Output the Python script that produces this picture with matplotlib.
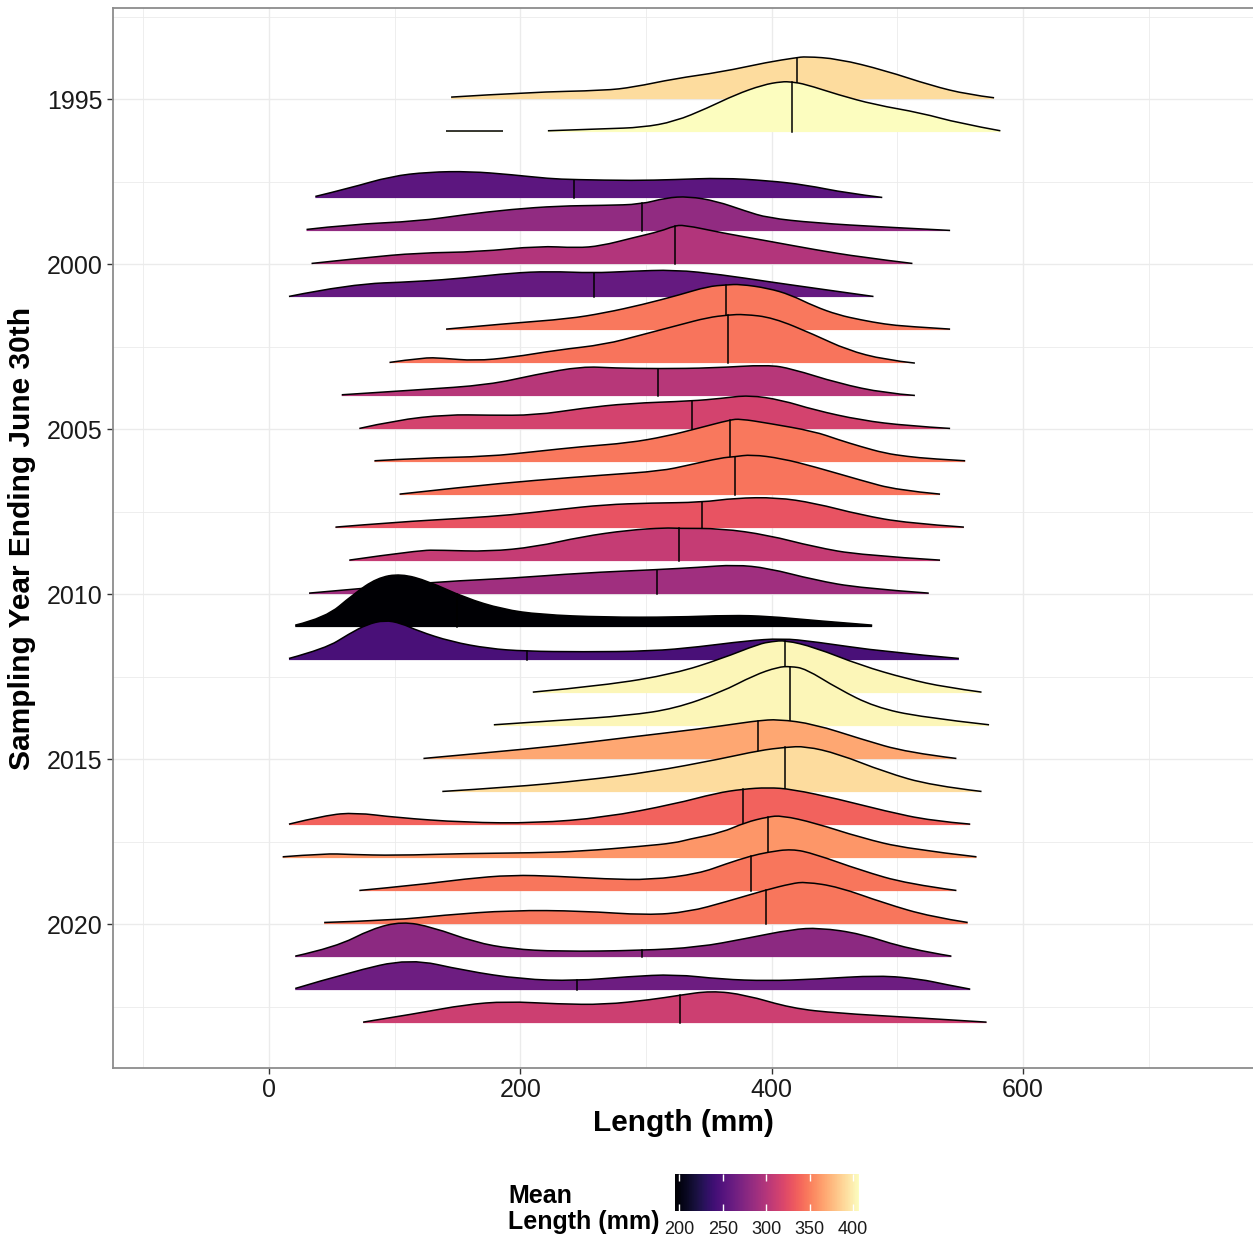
import numpy as np
import matplotlib
matplotlib.use("Agg")
import matplotlib.pyplot as plt
from matplotlib.colors import Normalize
from matplotlib.cm import ScalarMappable
from matplotlib.path import Path
from matplotlib.patches import PathPatch

plt.rcParams['font.family'] = ['Liberation Sans', 'DejaVu Sans']

# ---------------- data ----------------
years = [1995, 1996, 1998, 1999, 2000, 2001, 2002, 2003, 2004, 2005, 2006,
         2007, 2008, 2009, 2010, 2011, 2012, 2013, 2014, 2015, 2016, 2017,
         2018, 2019, 2020, 2021, 2022, 2023]

mean_length = [392, 407, 254, 282, 299, 259, 347, 345, 301, 316, 347,
               345, 329, 309, 290, 195, 244, 403, 403, 368, 392, 337,
               360, 346, 346, 280, 263, 312]

median_length = [420, 416, 243, 297, 323, 258.5, 364, 365.5, 310, 336.5, 367,
                 370.5, 344.5, 326, 308.5, 150, 205, 411, 415, 389, 411, 377.5,
                 397, 383.5, 395.5, 297, 245, 327]

# density profiles: lengths (mm) and relative ridge heights (1 = one year row)
L1995 = [145, 208, 267, 290, 323, 360, 397, 419, 427, 453, 490, 527, 556, 577]
H1995 = [0.06, 0.21, 0.26, 0.36, 0.62, 0.82, 1.12, 1.25, 1.29, 1.22, 0.87, 0.41, 0.14, 0.04]

L1996a = [141, 186]
H1996a = [0.04, 0.04]
L1996b = [222, 267, 297, 323, 349, 371, 393, 408, 416, 427, 453, 482, 519, 549, 582]
H1996b = [0.04, 0.10, 0.14, 0.32, 0.73, 1.13, 1.43, 1.53, 1.52, 1.45, 1.13, 0.83, 0.58, 0.27, 0.04]

L1998 = [37, 64, 97, 127, 160, 193, 223, 243, 290, 323, 360, 397, 427, 460, 488]
H1998 = [0.05, 0.30, 0.66, 0.79, 0.81, 0.71, 0.59, 0.56, 0.53, 0.56, 0.61, 0.53, 0.40, 0.15, 0.02]

L1999 = [30, 64, 119, 156, 193, 230, 267, 296, 316, 334, 356, 379, 397, 434, 490, 542]
H1999 = [0.05, 0.20, 0.30, 0.50, 0.66, 0.76, 0.78, 0.81, 1.01, 1.05, 0.91, 0.61, 0.40, 0.25, 0.12, 0.02]

L2000 = [34, 75, 119, 167, 215, 245, 264, 290, 312, 322, 330, 360, 397, 434, 471, 512]
H2000 = [0.02, 0.19, 0.34, 0.37, 0.55, 0.49, 0.55, 0.80, 1.00, 1.15, 1.19, 0.95, 0.70, 0.44, 0.21, 0.02]

L2001 = [16, 64, 119, 156, 193, 223, 258, 286, 323, 360, 397, 434, 481]
H2001 = [0.02, 0.39, 0.47, 0.58, 0.73, 0.78, 0.73, 0.78, 0.83, 0.68, 0.47, 0.27, 0.02]

L2002 = [141, 193, 238, 267, 297, 327, 349, 364, 375, 397, 415, 434, 453, 471, 490, 508, 542]
H2002 = [0.03, 0.21, 0.34, 0.52, 0.77, 1.07, 1.32, 1.37, 1.39, 1.27, 1.07, 0.72, 0.46, 0.31, 0.18, 0.11, 0.03]

L2003 = [96, 123, 138, 164, 193, 230, 267, 297, 327, 349, 366, 378, 401, 434, 460, 490, 514]
H2003 = [0.02, 0.17, 0.15, 0.07, 0.17, 0.40, 0.56, 0.86, 1.16, 1.38, 1.46, 1.48, 1.38, 0.86, 0.40, 0.10, 0.0]

L2004 = [58, 119, 175, 212, 249, 275, 310, 353, 397, 416, 453, 490, 514]
H2004 = [0.04, 0.19, 0.34, 0.65, 0.90, 0.85, 0.83, 0.85, 0.95, 0.83, 0.39, 0.09, 0.02]

L2005 = [72, 101, 142, 175, 212, 249, 286, 336, 360, 382, 408, 434, 471, 508, 542]
H2005 = [0.02, 0.27, 0.44, 0.42, 0.42, 0.63, 0.78, 0.85, 0.93, 1.03, 0.88, 0.58, 0.27, 0.10, 0.02]

L2006 = [84, 119, 175, 212, 249, 286, 316, 342, 367, 375, 397, 434, 453, 471, 490, 508, 527, 554]
H2006 = [0.04, 0.12, 0.17, 0.32, 0.47, 0.58, 0.78, 1.03, 1.28, 1.31, 1.18, 0.93, 0.68, 0.47, 0.27, 0.17, 0.10, 0.04]

L2007 = [104, 156, 212, 267, 312, 334, 360, 370, 384, 408, 434, 471, 500, 534]
H2007 = [0.03, 0.25, 0.45, 0.61, 0.73, 0.91, 1.13, 1.16, 1.23, 1.11, 0.86, 0.45, 0.15, 0.03]

L2008 = [53, 101, 156, 193, 230, 267, 304, 344, 371, 404, 434, 471, 508, 553]
H2008 = [0.03, 0.18, 0.30, 0.40, 0.56, 0.71, 0.76, 0.78, 0.91, 0.93, 0.76, 0.40, 0.15, 0.03]

L2009 = [64, 119, 138, 175, 212, 249, 286, 316, 325, 360, 397, 434, 471, 534]
H2009 = [0.03, 0.33, 0.33, 0.29, 0.43, 0.74, 0.94, 1.01, 0.99, 0.99, 0.79, 0.43, 0.18, 0.03]

L2010 = [32, 82, 138, 193, 249, 308, 342, 371, 397, 434, 471, 525]
H2010 = [0.03, 0.20, 0.38, 0.48, 0.64, 0.74, 0.81, 0.89, 0.79, 0.43, 0.18, 0.03]

L2011 = [21, 45, 67, 86, 105, 127, 156, 186, 216, 267, 323, 367, 397, 434, 480]
H2011 = [0.06, 0.28, 0.99, 1.49, 1.62, 1.39, 0.89, 0.54, 0.38, 0.30, 0.30, 0.36, 0.33, 0.20, 0.06]

L2012 = [16, 45, 64, 78, 92, 105, 119, 145, 175, 204, 249, 304, 342, 379, 408, 434, 490, 549]
H2012 = [0.05, 0.35, 0.80, 1.08, 1.21, 1.12, 0.88, 0.56, 0.35, 0.27, 0.25, 0.27, 0.40, 0.58, 0.66, 0.56, 0.25, 0.05]

L2013 = [210, 267, 323, 360, 390, 400, 411, 434, 471, 508, 538, 567]
H2013 = [0.03, 0.23, 0.59, 1.04, 1.49, 1.56, 1.60, 1.39, 0.84, 0.43, 0.18, 0.03]

L2014 = [179, 230, 286, 323, 360, 386, 405, 415, 427, 453, 482, 519, 573]
H2014 = [0.04, 0.17, 0.32, 0.53, 1.03, 1.54, 1.79, 1.81, 1.74, 1.13, 0.58, 0.27, 0.04]

L2015 = [123, 175, 230, 286, 342, 379, 389, 405, 434, 471, 508, 547]
H2015 = [0.02, 0.20, 0.40, 0.66, 0.91, 1.11, 1.16, 1.21, 1.06, 0.61, 0.20, 0.02]

L2016 = [138, 193, 249, 304, 360, 390, 411, 427, 453, 490, 527, 567]
H2016 = [0.02, 0.15, 0.35, 0.61, 1.01, 1.26, 1.36, 1.39, 1.16, 0.61, 0.20, 0.02]

L2017 = [16, 45, 69, 101, 156, 212, 267, 323, 356, 377, 397, 416, 453, 490, 527, 558]
H2017 = [0.03, 0.30, 0.38, 0.23, 0.08, 0.06, 0.23, 0.64, 0.97, 1.09, 1.14, 1.09, 0.79, 0.43, 0.13, 0.03]

L2018 = [11, 45, 64, 101, 156, 212, 249, 297, 323, 334, 360, 379, 397, 408, 434, 471, 508, 563]
H2018 = [0.04, 0.14, 0.11, 0.08, 0.14, 0.16, 0.21, 0.36, 0.46, 0.57, 0.77, 1.08, 1.25, 1.29, 1.07, 0.62, 0.28, 0.04]

L2019 = [72, 119, 156, 193, 230, 267, 304, 342, 364, 383, 397, 416, 434, 471, 508, 547]
H2019 = [0.02, 0.19, 0.37, 0.49, 0.45, 0.37, 0.34, 0.53, 0.83, 1.06, 1.18, 1.28, 1.13, 0.63, 0.22, 0.02]

L2020 = [44, 101, 138, 193, 249, 301, 334, 364, 395, 416, 427, 453, 490, 527, 556]
H2020 = [0.05, 0.12, 0.27, 0.42, 0.40, 0.27, 0.37, 0.68, 1.03, 1.23, 1.28, 1.13, 0.63, 0.22, 0.05]

L2021 = [21, 53, 82, 106, 130, 164, 193, 230, 296, 342, 379, 416, 438, 471, 508, 543]
H2021 = [0.03, 0.30, 0.86, 1.08, 0.91, 0.45, 0.25, 0.17, 0.20, 0.30, 0.56, 0.84, 0.89, 0.71, 0.25, 0.03]

L2022 = [21, 64, 112, 156, 201, 244, 286, 323, 360, 397, 434, 486, 519, 537, 558]
H2022 = [0.05, 0.54, 0.96, 0.59, 0.33, 0.28, 0.41, 0.48, 0.33, 0.28, 0.33, 0.45, 0.33, 0.18, 0.03]

L2023 = [75, 119, 156, 189, 230, 267, 304, 326, 352, 379, 416, 453, 508, 571]
H2023 = [0.03, 0.30, 0.56, 0.66, 0.58, 0.56, 0.71, 0.84, 0.98, 0.86, 0.45, 0.30, 0.18, 0.03]

profiles = {
    1995: [(L1995, H1995)], 1996: [(L1996a, H1996a), (L1996b, H1996b)],
    1998: [(L1998, H1998)], 1999: [(L1999, H1999)], 2000: [(L2000, H2000)],
    2001: [(L2001, H2001)], 2002: [(L2002, H2002)], 2003: [(L2003, H2003)],
    2004: [(L2004, H2004)], 2005: [(L2005, H2005)], 2006: [(L2006, H2006)],
    2007: [(L2007, H2007)], 2008: [(L2008, H2008)], 2009: [(L2009, H2009)],
    2010: [(L2010, H2010)], 2011: [(L2011, H2011)], 2012: [(L2012, H2012)],
    2013: [(L2013, H2013)], 2014: [(L2014, H2014)], 2015: [(L2015, H2015)],
    2016: [(L2016, H2016)], 2017: [(L2017, H2017)], 2018: [(L2018, H2018)],
    2019: [(L2019, H2019)], 2020: [(L2020, H2020)], 2021: [(L2021, H2021)],
    2022: [(L2022, H2022)], 2023: [(L2023, H2023)],
}

x_ticks = [0, 200, 400, 600]
y_ticks = [1995, 2000, 2005, 2010, 2015, 2020]
cbar_ticks = [200, 250, 300, 350, 400]


# ---------------- helpers: smooth (quadratic B-spline style) ridge path ----------------
def ridge_top(xs, ys):
    """Vertices/codes of a smooth curve using the read points as control points."""
    pts = list(zip(xs, ys))
    verts = [pts[0]]
    codes = [Path.MOVETO]
    n = len(pts)
    if n <= 2:
        verts.append(pts[-1])
        codes.append(Path.LINETO)
        return verts, codes
    for i in range(1, n - 1):
        if i < n - 2:
            end = ((pts[i][0] + pts[i + 1][0]) / 2, (pts[i][1] + pts[i + 1][1]) / 2)
        else:
            end = pts[n - 1]
        verts += [pts[i], end]
        codes += [Path.CURVE3, Path.CURVE3]
    return verts, codes


def height_on_curve(verts, codes, xq):
    """Height of the drawn curve at xq (walks the quadratic segments)."""
    px, py = [verts[0][0]], [verts[0][1]]
    i = 1
    while i < len(verts):
        if codes[i] == Path.CURVE3:
            p0 = np.array([px[-1], py[-1]])
            c = np.array(verts[i])
            e = np.array(verts[i + 1])
            for t in np.linspace(0, 1, 25)[1:]:
                p = (1 - t) ** 2 * p0 + 2 * (1 - t) * t * c + t ** 2 * e
                px.append(p[0]); py.append(p[1])
            i += 2
        else:
            px.append(verts[i][0]); py.append(verts[i][1])
            i += 1
    return np.interp(xq, px, py)


# ---------------- figure ----------------
W, H = 1253, 1239
fig = plt.figure(figsize=(W / 100, H / 100), dpi=100)
ax = fig.add_axes([113 / W, 1 - 1068 / H, (W - 113) / W, (1068 - 8) / H])

cmap = plt.get_cmap('magma')
norm = Normalize(vmin=195, vmax=407)

for i, yr in enumerate(years):
    col = cmap(norm(mean_length[i]))
    z = 3 + i * 0.1
    for (Ls, Hs) in profiles[yr]:
        tops = [yr - h for h in Hs]
        v, c = ridge_top(Ls, tops)
        fill_v = v + [(Ls[-1], yr), (Ls[0], yr), (Ls[0], tops[0])]
        fill_c = c + [Path.LINETO, Path.LINETO, Path.CLOSEPOLY]
        ax.add_patch(PathPatch(Path(fill_v, fill_c), facecolor=col,
                               edgecolor='none', lw=0, zorder=z))
        ax.add_patch(PathPatch(Path(v, c), facecolor='none', edgecolor='black',
                               lw=1.1, zorder=z + 0.02, capstyle='butt'))
        m = median_length[i]
        if Ls[0] <= m <= Ls[-1]:
            ytop = height_on_curve(v, c, m)
            ax.plot([m, m], [yr, ytop], color='black', lw=1.1, zorder=z + 0.03)

ax.set_xlim(-124, 783)
ax.set_ylim(2024.36, 1992.24)

ax.set_xticks(x_ticks)
ax.set_xticks([-100, 100, 300, 500, 700], minor=True)
ax.set_yticks(y_ticks)
ax.set_yticks([1992.5, 1997.5, 2002.5, 2007.5, 2012.5, 2017.5, 2022.5], minor=True)
ax.grid(which='major', color='#EBEBEB', lw=1.0, zorder=0)
ax.grid(which='minor', color='#EBEBEB', lw=0.6, zorder=0)
ax.set_axisbelow(True)

ax.tick_params(which='minor', length=0)
ax.tick_params(which='major', length=4.5, width=1.0, color='#333333',
               labelsize=18, labelcolor='#1a1a1a', pad=3)

for s in ['left', 'top', 'bottom']:
    ax.spines[s].set_color('#8c8c8c')
    ax.spines[s].set_linewidth(1.3)
ax.spines['right'].set_visible(False)

ax.set_xlabel('Length (mm)', fontsize=21.5, fontweight='bold', va='center')
ax.xaxis.set_label_coords(0.5, (1068 - 1123) / 1060)
ax.set_ylabel('Sampling Year Ending June 30th', fontsize=21.5, fontweight='bold',
              va='center')
ax.yaxis.set_label_coords((22 - 113) / (W - 113), 0.5)

# ---------------- colourbar legend ----------------
cax = fig.add_axes([675 / W, 1 - 1211 / H, 184 / W, 37 / H])
sm = ScalarMappable(norm=norm, cmap=cmap)
cb = fig.colorbar(sm, cax=cax, orientation='horizontal', ticks=cbar_ticks)
cb.outline.set_visible(False)
cax.tick_params(axis='x', direction='in', length=5, width=1.0, color='white',
                top=True, bottom=True, labeltop=False, labelbottom=True,
                labelsize=13, labelcolor='#1a1a1a', pad=7)
fig.text(508 / W, 1 - 1209 / H, 'Mean\nLength (mm)', fontsize=18,
         fontweight='bold', ha='left', va='center', linespacing=1.1)

fig.savefig('out.png', dpi=100)
